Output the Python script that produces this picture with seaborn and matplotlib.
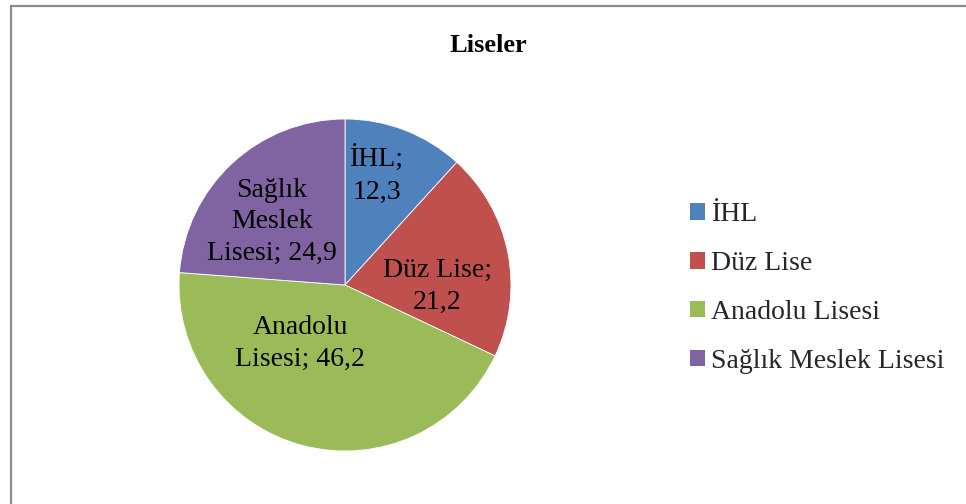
import matplotlib
matplotlib.use("Agg")
import matplotlib.pyplot as plt
from matplotlib.patches import Rectangle, Patch
import seaborn as sns

categories = ["İHL", "Düz Lise", "Anadolu Lisesi", "Sağlık Meslek Lisesi"]
values = [12.3, 21.2, 46.2, 24.9]
label_texts = ["İHL;\n12,3", "Düz Lise;\n21,2", "Anadolu\nLisesi; 46,2", "Sağlık\nMeslek\nLisesi; 24,9"]
title = "Liseler"

sns.set_theme(style="white")
plt.rcParams["font.family"] = ["Liberation Serif", "DejaVu Serif"]

colors = ["#4F81BD", "#C0504D", "#9BBB59", "#8064A2"]
label_pos = [(0.19, 0.66), (0.555, -0.01), (-0.27, -0.35), (-0.44, 0.38)]

W, H = 966, 504
fig = plt.figure(figsize=(W / 100, H / 100), dpi=100)
fig.patch.set_facecolor("white")

cx, cy, r = 345, 285, 166
ax = fig.add_axes([(cx - r) / W, (H - cy - r) / H, 2 * r / W, 2 * r / H])
wedges, _ = ax.pie(values, colors=colors, startangle=90, counterclock=False,
                   wedgeprops=dict(edgecolor="white", linewidth=0.6))
ax.set_xlim(-1, 1)
ax.set_ylim(-1, 1)
ax.set_aspect("equal")
ax.axis("off")

for txt, (x, y) in zip(label_texts, label_pos):
    ax.text(x, y, txt, ha="center", va="center", fontsize=20, color="black",
            linespacing=1.36)

fig.text(488 / W, 1 - 45 / H, title, ha="center", va="center",
         fontsize=19, fontweight="bold", color="black")

handles = [Patch(facecolor=c, edgecolor="none") for c in colors]
fig.legend(handles, categories, loc="center left",
           bbox_to_anchor=(690 / W, 1 - 288 / H), frameon=False,
           fontsize=20, handlelength=0.54, handleheight=0.54,
           handletextpad=0.22, labelspacing=0.86, borderpad=0, borderaxespad=0)

fig.add_artist(Rectangle((10.5 / W, -0.1), 1.2, 1.1 - 6.5 / H,
                         transform=fig.transFigure, fill=False,
                         edgecolor="#8c8c8c", linewidth=1.6))

fig.savefig("out.png", dpi=100, facecolor="white")
